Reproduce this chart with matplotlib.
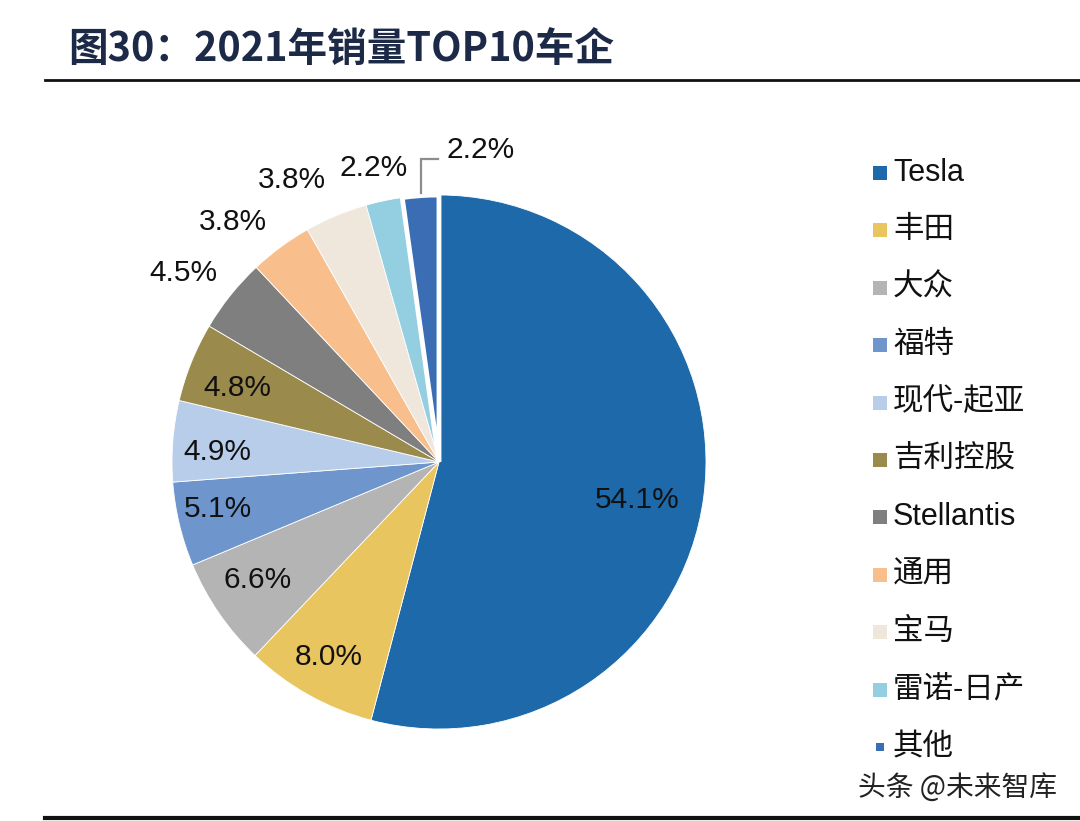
import numpy as np
import matplotlib
matplotlib.use("Agg")
import matplotlib.pyplot as plt
from matplotlib.patches import Rectangle

plt.rcParams['font.family'] = ['Liberation Sans', 'Noto Sans CJK SC', 'DejaVu Sans']

# ---- data ----
categories = ["Tesla", "丰田", "大众", "福特", "现代-起亚", "吉利控股",
              "Stellantis", "通用", "宝马", "雷诺-日产", "其他"]
shares = [54.1, 8.0, 6.6, 5.1, 4.9, 4.8, 4.5, 3.8, 3.8, 2.2, 2.2]
colors = ["#1D69AA", "#E8C55E", "#B4B4B4", "#6E96CD", "#B8CDE9", "#9A8A4B",
          "#7F7F7F", "#F8BF8C", "#EFE7DB", "#93CEE1", "#3A6DB4"]
title = "图30：2021年销量TOP10车企"
watermark = "头条 @未来智库"

# ---- label layout (style only) ----
label_dist = [0.755, 0.84, 0.81, 0.845, 0.83, 0.805, 1.19, 1.185, 1.19, 1.13, 1.18]
label_nudge = [-3.5, -0.4, -1.6, -1.5, 1.9, 1.9, 2.1, 4.2, 4.8, 0.7, -11.5]

W, H = 1080, 821
fig = plt.figure(figsize=(W / 100, H / 100), dpi=100)
fig.patch.set_facecolor("white")

cx, cy, R = 439, 462, 267
ax = fig.add_axes([(cx - R) / W, (H - cy - R) / H, 2 * R / W, 2 * R / H])
wedges, _ = ax.pie(shares, colors=colors, startangle=90, counterclock=False,
                   radius=1.0, wedgeprops=dict(edgecolor="white", linewidth=0.6))
wedges[-1].set_linewidth(3.5)
ax.set_xlim(-1, 1)
ax.set_ylim(-1, 1)
ax.set_aspect("equal")
ax.axis("off")

for i, (w, v) in enumerate(zip(wedges, shares)):
    mid = np.deg2rad((w.theta1 + w.theta2) / 2 + label_nudge[i])
    x = label_dist[i] * np.cos(mid)
    y = label_dist[i] * np.sin(mid)
    ax.text(x, y, f"{v:.1f}%", ha="center", va="center", fontsize=21.5,
            color="#111111", clip_on=False)
    if i == len(shares) - 1:
        m0 = np.deg2rad((w.theta1 + w.theta2) / 2)
        sx, sy = np.cos(m0), np.sin(m0)
        ly = y - 0.035
        ax.plot([sx, sx, x - 0.16], [sy + 0.01, ly, ly], color="#8C8C8C",
                lw=1.6, clip_on=False, solid_joinstyle="miter")

# ---- legend (manual) ----
y0, dy = 173, 57.4
for i, (c, name) in enumerate(zip(colors, categories)):
    yy = y0 + i * dy
    s = 14 if i < len(categories) - 1 else 8
    xs = 873 if i < len(categories) - 1 else 876
    fig.patches.append(Rectangle((xs / W, 1 - (yy + s / 2) / H), s / W, s / H,
                                 transform=fig.transFigure, facecolor=c,
                                 edgecolor="none"))
    fig.text(893 / W, 1 - yy / H, name, ha="left", va="center",
             fontsize=22, color="#111111")

# ---- title and rules ----
fig.text(68 / W, 1 - 49 / H, title, ha="left", va="center", fontsize=28.5,
         fontweight="heavy", color="#1C2947",
         family=["Noto Sans CJK SC", "DejaVu Sans"])
fig.add_artist(plt.Line2D([45 / W, 1], [1 - 80 / H, 1 - 80 / H],
                          transform=fig.transFigure, color="#111111", lw=2))
fig.add_artist(plt.Line2D([45 / W, 1], [1 - 818 / H, 1 - 818 / H],
                          transform=fig.transFigure, color="#111111", lw=3))

fig.text(1057 / W, 1 - 788 / H, watermark, ha="right", va="center",
         fontsize=20, color="#222222",
         family=["Noto Sans CJK SC", "DejaVu Sans"])

fig.savefig("out.png", dpi=100, facecolor="white")
